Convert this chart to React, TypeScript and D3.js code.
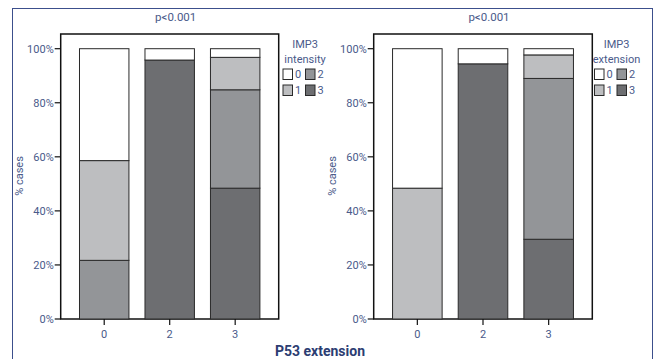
import React from 'react';
import * as d3 from 'd3';

// categories on the x axis (P53 extension)
const categories = ['0', '2', '3'];
// stacking order bottom -> top
const levels = ['3', '2', '1', '0'];
const yTicks = [0, 20, 40, 60, 80, 100];

// IMP3 intensity, % of cases per P53 category
const intensity0 = [41.4, 4.2, 3.2];
const intensity1 = [36.9, 0, 12.0];
const intensity2 = [21.7, 0, 36.4];
const intensity3 = [0, 95.8, 48.4];

// IMP3 extension, % of cases per P53 category
const extension0 = [51.6, 5.6, 2.3];
const extension1 = [48.4, 0, 8.7];
const extension2 = [0, 0, 59.5];
const extension3 = [0, 94.4, 29.5];

const fills: Record<string, string> = {
  '0': '#ffffff',
  '1': '#bdbec0',
  '2': '#939598',
  '3': '#6d6e71',
};

const textColor = '#4a5a8a';
const font = 'Roboto, "Open Sans", sans-serif';

type PanelProps = {
  x0: number;
  x1: number;
  title: string;
  legendTitle: string;
  legendX: number;
  series: number[][];
};

const Panel = ({ x0, x1, title, legendTitle, legendX, series }: PanelProps) => {
  const top = 34;
  const bottom = 319;

  const table = categories.map((c, i) => {
    const row: any = { cat: c };
    ['0', '1', '2', '3'].forEach((k, j) => (row[k] = series[j][i]));
    return row;
  });
  const stacked = d3.stack<any>().keys(levels)(table);

  const x = d3.scaleBand().domain(categories).range([x0, x1]).paddingInner(0.245).paddingOuter(0.287);
  const y = d3.scaleLinear().domain([0, 100]).range([bottom, 48.7]);

  return (
    <g>
      <text x={(x0 + x1) / 2 + 6} y={21} textAnchor="middle" fill={textColor} fontSize={11.5} fontFamily={font}>
        {title}
      </text>
      <rect x={x0} y={top} width={x1 - x0} height={bottom - top} fill="#fff" stroke="#111" strokeWidth={1.5} />
      {stacked.map((layer) =>
        layer.map((d, i) =>
          d[1] - d[0] > 0 ? (
            <rect
              key={layer.key + i}
              x={x(categories[i])}
              y={y(d[1])}
              width={x.bandwidth()}
              height={y(d[0]) - y(d[1])}
              fill={fills[layer.key]}
              stroke="#2a2a2a"
              strokeWidth={1}
            />
          ) : null
        )
      )}
      {yTicks.map((t) => (
        <g key={t}>
          <line x1={x0 - 6} x2={x0} y1={y(t)} y2={y(t)} stroke="#111" strokeWidth={1.2} />
          <text x={x0 - 7} y={y(t)} dy="0.35em" textAnchor="end" fill={textColor} fontSize={11} fontFamily={font}>
            {t}%
          </text>
        </g>
      ))}
      {categories.map((c) => {
        const cx = (x(c) as number) + x.bandwidth() / 2;
        return (
          <g key={c}>
            <line x1={cx} x2={cx} y1={bottom} y2={bottom + 6} stroke="#111" strokeWidth={1.2} />
            <text x={cx} y={bottom + 15} dy="0.35em" textAnchor="middle" fill={textColor} fontSize={11} fontFamily={font}>
              {c}
            </text>
          </g>
        );
      })}
      <text
        transform={`translate(${x0 - 38},176) rotate(-90)`}
        textAnchor="middle"
        fill={textColor}
        fontSize={11}
        fontFamily={font}
      >
        % cases
      </text>
      <text x={legendX + 22} y={48} textAnchor="middle" fill={textColor} fontSize={11} fontFamily={font}>
        IMP3
      </text>
      <text x={legendX + 22} y={63} textAnchor="middle" fill={textColor} fontSize={11} fontFamily={font}>
        {legendTitle}
      </text>
      {['0', '2', '1', '3'].map((k, i) => {
        const lx = legendX + (i % 2) * 22.5;
        const ly = 69 + Math.floor(i / 2) * 16;
        return (
          <g key={k}>
            <rect x={lx} y={ly} width={9.5} height={10.5} fill={fills[k]} stroke="#2a2a2a" strokeWidth={1} />
            <text x={lx + 12} y={ly + 5.5} dy="0.35em" fill={textColor} fontSize={11} fontFamily={font}>
              {k}
            </text>
          </g>
        );
      })}
    </g>
  );
};

const App = () => {
  return (
    <svg width={657} height={359} style={{ position: 'absolute', left: 0, top: 0 }}>
      <rect x={12.5} y={8.5} width={640} height={360} fill="#fff" stroke="#3c4f8c" strokeWidth={1} />
      <Panel
        x0={60.7}
        x1={278.7}
        title="p<0.001"
        legendTitle="intensity"
        legendX={283}
        series={[intensity0, intensity1, intensity2, intensity3]}
      />
      <Panel
        x0={373.7}
        x1={592.3}
        title="p<0.001"
        legendTitle="extension"
        legendX={594.5}
        series={[extension0, extension1, extension2, extension3]}
      />
      <text x={320} y={355.5} textAnchor="middle" fill="#2c3d72" fontSize={14} fontWeight="bold" fontFamily={font}>
        P53 extension
      </text>
    </svg>
  );
};

export default App;
